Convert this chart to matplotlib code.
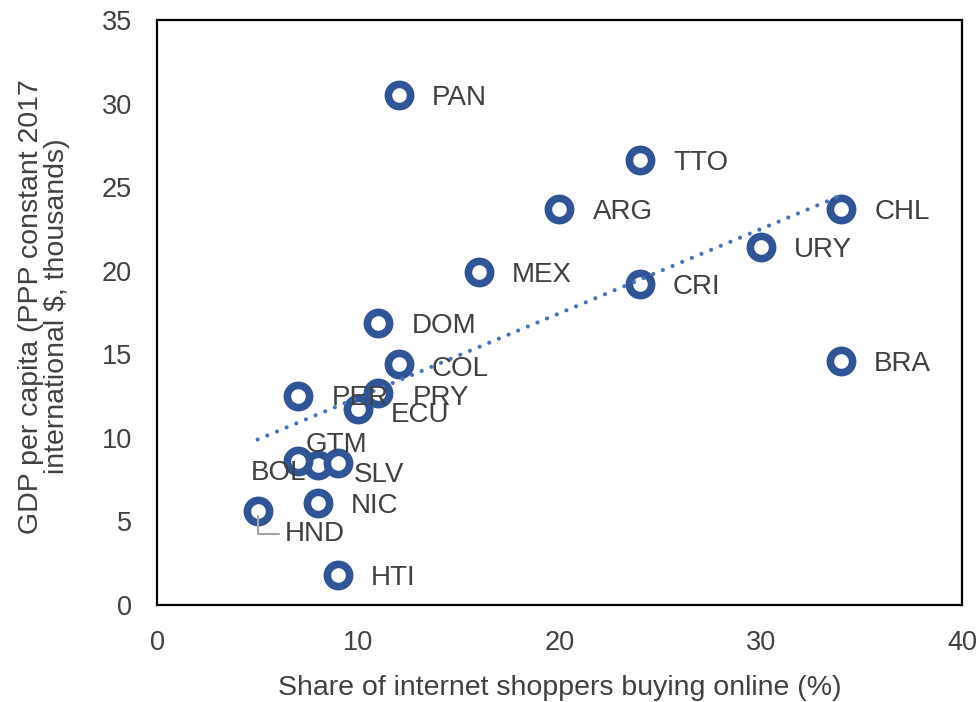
import numpy as np
import matplotlib.pyplot as plt

countries = ['PAN', 'TTO', 'ARG', 'CHL', 'URY', 'MEX', 'CRI', 'DOM', 'BRA', 'COL',
             'PER', 'PRY', 'ECU', 'GTM', 'BOL', 'SLV', 'NIC', 'HND', 'HTI']
share_online = [12, 24, 20, 34, 30, 16, 24, 11, 34, 12,
                7, 11, 10, 8, 7, 9, 8, 5, 9]
gdp_pc = [30.5, 26.6, 23.7, 23.7, 21.4, 19.9, 19.2, 16.9, 14.6, 14.4,
          12.5, 12.7, 11.7, 8.4, 8.6, 8.5, 6.1, 5.6, 1.8]

# label offsets in pixels (dx, dy) and alignment, tweaked by hand
px = 0.72
offsets = {
    'GTM': (18, 20, 'center'),
    'BOL': (8, -12, 'right'),
    'SLV': (16, -12, 'left'),
    'PER': (34, -2, 'left'),
    'ECU': (32, -6, 'left'),
    'PRY': (34, -5, 'left'),
    'COL': (33, -5, 'left'),
    'HND': (27, -23, 'left'),
}

plt.rcParams['font.family'] = ['Liberation Sans', 'DejaVu Sans']
txt_col = '#404040'

fig = plt.figure(figsize=(9.79, 7.02), dpi=100)
ax = fig.add_axes([0.1604, 0.1382, 0.8222, 0.8333])

ax.plot(share_online, gdp_pc, 'o', ms=16, mew=5.5, mec='#2F5597', mfc='white',
        zorder=3)

# linear trend
k, b = np.polyfit(share_online, gdp_pc, 1)
xs = np.array([min(share_online), max(share_online)])
ax.plot(xs, k * xs + b, color='#4472C4', lw=3, linestyle=(0, (0.01, 2.5)),
        dash_capstyle='round', zorder=4)

for c, x, y in zip(countries, share_online, gdp_pc):
    dx, dy, ha = offsets.get(c, (33, -3, 'left'))
    if c == 'HND':
        ax.annotate(c, (x, y), xytext=(dx * px, dy * px), textcoords='offset points',
                    ha=ha, va='center', fontsize=20, color=txt_col,
                    arrowprops=dict(arrowstyle='-', color='#A6A6A6', lw=1.5,
                                    shrinkA=2, shrinkB=3, relpos=(0, 0.5),
                                    connectionstyle='angle,angleA=0,angleB=90,rad=0'))
    else:
        ax.annotate(c, (x, y), xytext=(dx * px, dy * px), textcoords='offset points',
                    ha=ha, va='center', fontsize=20, color=txt_col, zorder=5)

ax.set_xlim(0, 40)
ax.set_ylim(0, 35)
ax.set_xticks([0, 10, 20, 30, 40])
ax.set_yticks(range(0, 36, 5))
ax.tick_params(length=0, labelsize=19.5, labelcolor=txt_col, pad=18)
for s in ax.spines.values():
    s.set_linewidth(1.6)

ax.set_xlabel('Share of internet shoppers buying online (%)', fontsize=20.5,
              color=txt_col, labelpad=14)
ax.set_ylabel('GDP per capita (PPP constant 2017\ninternational $, thousands)',
              fontsize=20.5, color=txt_col, labelpad=22, linespacing=1.0)
ax.yaxis.set_label_coords(-0.108, 0.51)

fig.savefig('out.png', dpi=100)
